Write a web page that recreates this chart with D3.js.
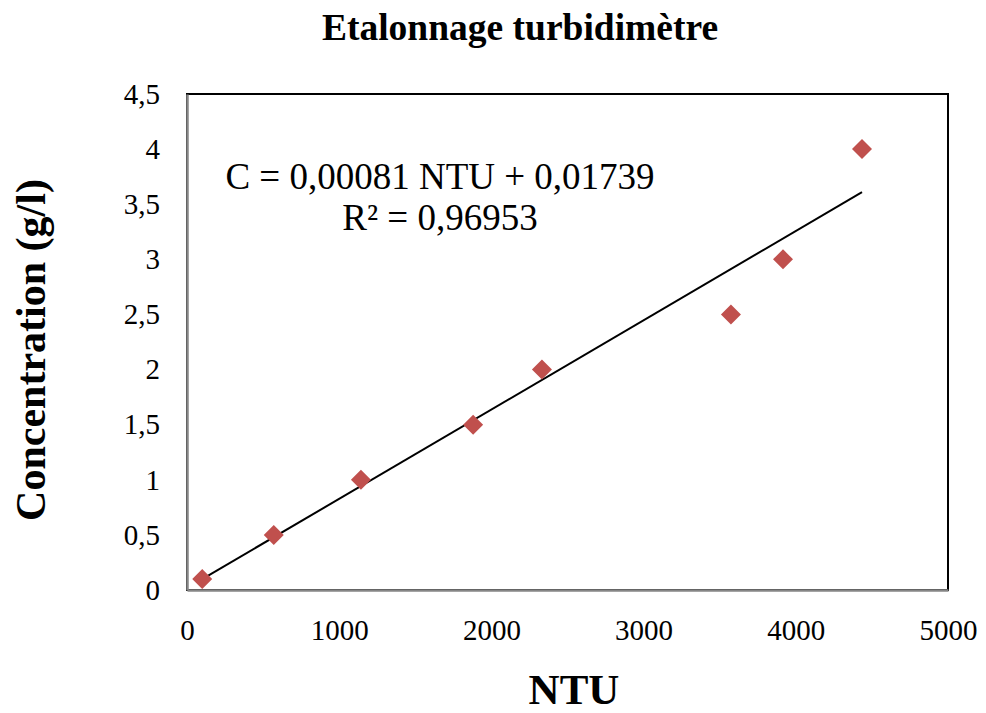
<!DOCTYPE html>
<html><head><meta charset="utf-8">
<script src="https://cdn.jsdelivr.net/npm/d3@7"></script>
<style>body{margin:0;background:#fff;}svg{display:block;font-family:"Liberation Serif","Times New Roman",serif;}</style>
</head><body>
<svg id="c" width="986" height="713"></svg>
<script>
const ntu = [100, 570, 1143, 1880, 2332, 3574, 3916, 4435];
const conc = [0.1, 0.5, 1, 1.5, 2, 2.5, 3, 4];
const xTicks = [0, 1000, 2000, 3000, 4000, 5000];
const yTicks = [0, 0.5, 1, 1.5, 2, 2.5, 3, 3.5, 4, 4.5];
const slope = 0.00081, intercept = 0.01739;
const title = "Etalonnage turbidimètre";
const xTitle = "NTU", yTitle = "Concentration (g/l)";
const eqText = "C = 0,00081 NTU + 0,01739", r2Text = "R² = 0,96953";

const svg = d3.select("#c");
const L = 187, R = 948, T = 94, B = 590;
const x = d3.scaleLinear().domain([0, 5000]).range([L, R]);
const y = d3.scaleLinear().domain([0, 4.5]).range([B, T]);
const fmt = d => String(d).replace(".", ",");

svg.append("text").attr("x", 520).attr("y", 40).attr("text-anchor", "middle")
  .attr("font-weight", "bold").attr("font-size", 37.5).text(title);

// frame
svg.append("rect").attr("x", L).attr("y", T).attr("width", R - L).attr("height", B - T)
  .attr("fill", "none").attr("stroke", "#000").attr("stroke-width", 2);

const xa = svg.append("g").attr("transform", `translate(0,${B})`)
  .call(d3.axisBottom(x).tickValues(xTicks).tickSize(0).tickPadding(0).tickFormat(d => d));
const ya = svg.append("g").attr("transform", `translate(${L},0)`)
  .call(d3.axisLeft(y).tickValues(yTicks).tickSize(0).tickPadding(27).tickFormat(fmt));
[xa, ya].forEach(a => {
  a.attr("font-size", 29).attr("font-family", "Liberation Serif, Times New Roman, serif");
  a.select(".domain").attr("stroke", "#868686").attr("stroke-width", 2.5);
  a.selectAll("text").attr("fill", "#000");
});
xa.selectAll("text").attr("y", 50).attr("dy", 0);

// trendline
const x0 = d3.min(ntu), x1 = d3.max(ntu);
svg.append("line").attr("x1", x(x0)).attr("y1", y(slope * x0 + intercept))
  .attr("x2", x(x1)).attr("y2", y(slope * x1 + intercept))
  .attr("stroke", "#000").attr("stroke-width", 2);

// points
svg.selectAll(".pt").data(ntu.map((v, i) => [v, conc[i]])).join("path")
  .attr("transform", d => `translate(${x(d[0])},${y(d[1])}) rotate(45)`)
  .attr("d", d3.symbol().type(d3.symbolSquare).size(200)).attr("fill", "#C0504D");

svg.append("text").attr("x", 440).attr("y", 189).attr("text-anchor", "middle")
  .attr("font-size", 37).text(eqText);
svg.append("text").attr("x", 440).attr("y", 230).attr("text-anchor", "middle")
  .attr("font-size", 37).text(r2Text);

svg.append("text").attr("x", 574).attr("y", 704).attr("text-anchor", "middle")
  .attr("font-weight", "bold").attr("font-size", 43).text(xTitle);
svg.append("text").attr("transform", "translate(45,350) rotate(-90)").attr("text-anchor", "middle")
  .attr("font-weight", "bold").attr("font-size", 42).text(yTitle);
</script>
</body></html>
